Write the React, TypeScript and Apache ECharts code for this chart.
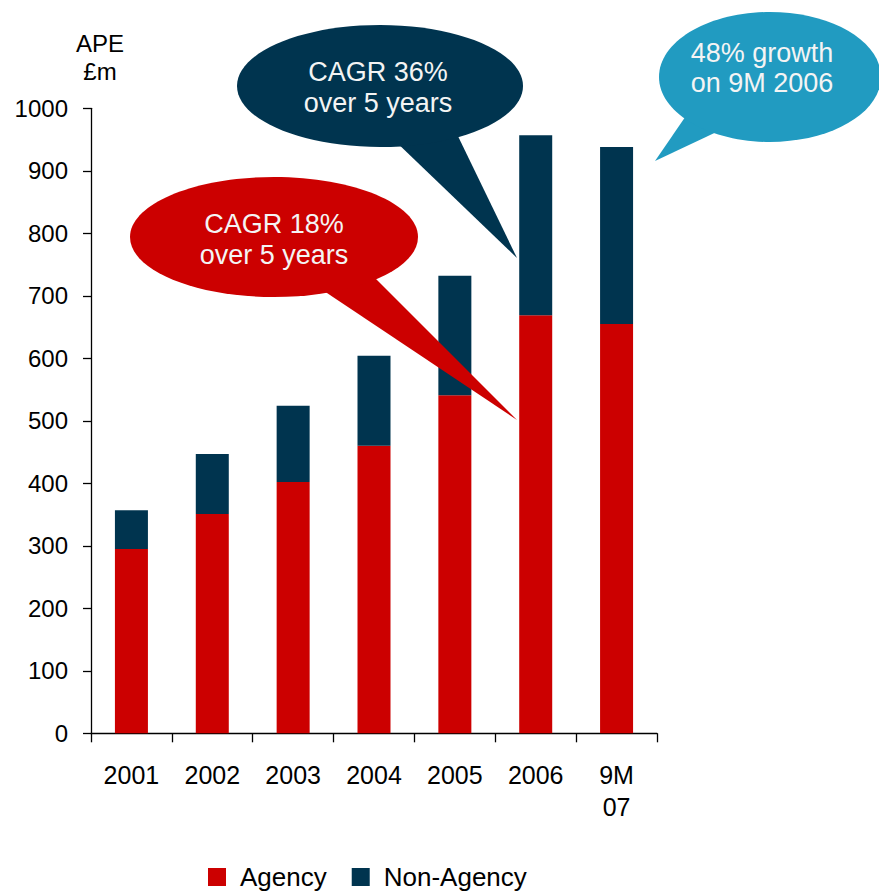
import React, { useEffect, useRef } from "react";
import * as echarts from "echarts";

const categories = ["2001", "2002", "2003", "2004", "2005", "2006", "9M\n07"];
const agency = [295, 351, 402, 460, 541, 669, 655];
const nonAgency = [62, 96, 122, 144, 191, 288, 283];
const yTicks = { min: 0, max: 1000, interval: 100 };
const bubbleTexts = {
  red: "CAGR 18%\nover 5 years",
  navy: "CAGR 36%\nover 5 years",
  teal: "48% growth\non 9M 2006",
};

const RED = "#CC0000";
const NAVY = "#00344F";
const TEAL = "#219BC1";
const FONT = "'Liberation Sans', Arial, sans-serif";

export default function App() {
  const ref = useRef<HTMLDivElement>(null);
  useEffect(() => {
    if (!ref.current) return;
    const chart = echarts.init(ref.current, null, { renderer: "svg" });
    const bubbleText = (x: number, y: number, text: string, lh: number) => ({
      type: "text",
      x,
      y,
      z: 103,
      style: {
        text,
        fill: "#F4F4F4",
        font: `27px ${FONT}`,
        fontSize: 27,
        fontFamily: FONT,
        align: "center",
        verticalAlign: "middle",
        lineHeight: lh,
      },
    });
    chart.setOption({
      animation: false,
      textStyle: { fontFamily: FONT },
      grid: { left: 91, right: 222, top: 108.3, bottom: 158.7, containLabel: false },
      legend: {
        left: 208,
        top: 864,
        padding: 0,
        itemWidth: 18,
        itemHeight: 18,
        itemGap: 25,
        icon: "rect",
        textStyle: { fontSize: 26, color: "#000", fontFamily: FONT, padding: [0, 0, 0, 9] },
        data: ["Agency", "Non-Agency"],
      },
      xAxis: {
        type: "category",
        data: categories,
        axisLine: { lineStyle: { color: "#000", width: 1.3 } },
        axisTick: { show: true, length: 9, lineStyle: { color: "#000", width: 1.3 } },
        axisLabel: { color: "#000", fontSize: 25, margin: 26, lineHeight: 32, fontFamily: FONT },
      },
      yAxis: {
        type: "value",
        min: yTicks.min,
        max: yTicks.max,
        interval: yTicks.interval,
        splitLine: { show: false },
        axisLine: { show: true, lineStyle: { color: "#000", width: 1.3 } },
        axisTick: { show: true, length: 8, lineStyle: { color: "#000", width: 1.3 } },
        axisLabel: {
          color: "#000",
          fontSize: 24,
          margin: 23,
          fontFamily: FONT,
          formatter: (v: number) => String(v),
        },
      },
      series: [
        {
          name: "Agency",
          type: "bar",
          stack: "total",
          barWidth: 33,
          itemStyle: { color: RED },
          data: agency,
        },
        {
          name: "Non-Agency",
          type: "bar",
          stack: "total",
          barWidth: 33,
          itemStyle: { color: NAVY },
          data: nonAgency,
        },
      ],
      graphic: [
        {
          type: "text",
          x: 100,
          y: 57,
          z: 100,
          style: {
            text: "APE\n£m",
            fill: "#000",
            font: `24px ${FONT}`,
            fontSize: 24,
            fontFamily: FONT,
            align: "center",
            verticalAlign: "middle",
            lineHeight: 28,
          },
        },
        // red bubble
        {
          type: "polygon",
          z: 101,
          shape: { points: [[315, 285], [372, 275], [517, 420]] },
          style: { fill: RED },
        },
        {
          type: "ellipse",
          z: 102,
          shape: { cx: 274, cy: 237, rx: 144, ry: 60 },
          style: { fill: RED },
        },
        bubbleText(274, 239, bubbleTexts.red, 31),
        // navy bubble
        {
          type: "polygon",
          z: 101,
          shape: { points: [[392, 138], [455, 130], [517, 258]] },
          style: { fill: NAVY },
        },
        {
          type: "ellipse",
          z: 102,
          shape: { cx: 380, cy: 86, rx: 143, ry: 61 },
          style: { fill: NAVY },
        },
        bubbleText(378, 87, bubbleTexts.navy, 31),
        // teal bubble
        {
          type: "polygon",
          z: 101,
          shape: { points: [[690, 110], [725, 128], [655, 161]] },
          style: { fill: TEAL },
        },
        {
          type: "ellipse",
          z: 102,
          shape: { cx: 770, cy: 77, rx: 111, ry: 65 },
          style: { fill: TEAL },
        },
        bubbleText(762, 68, bubbleTexts.teal, 30),
      ],
    });
    return () => chart.dispose();
  }, []);
  return <div ref={ref} style={{ width: 879, height: 892, position: "absolute", left: 0, top: 0 }} />;
}
